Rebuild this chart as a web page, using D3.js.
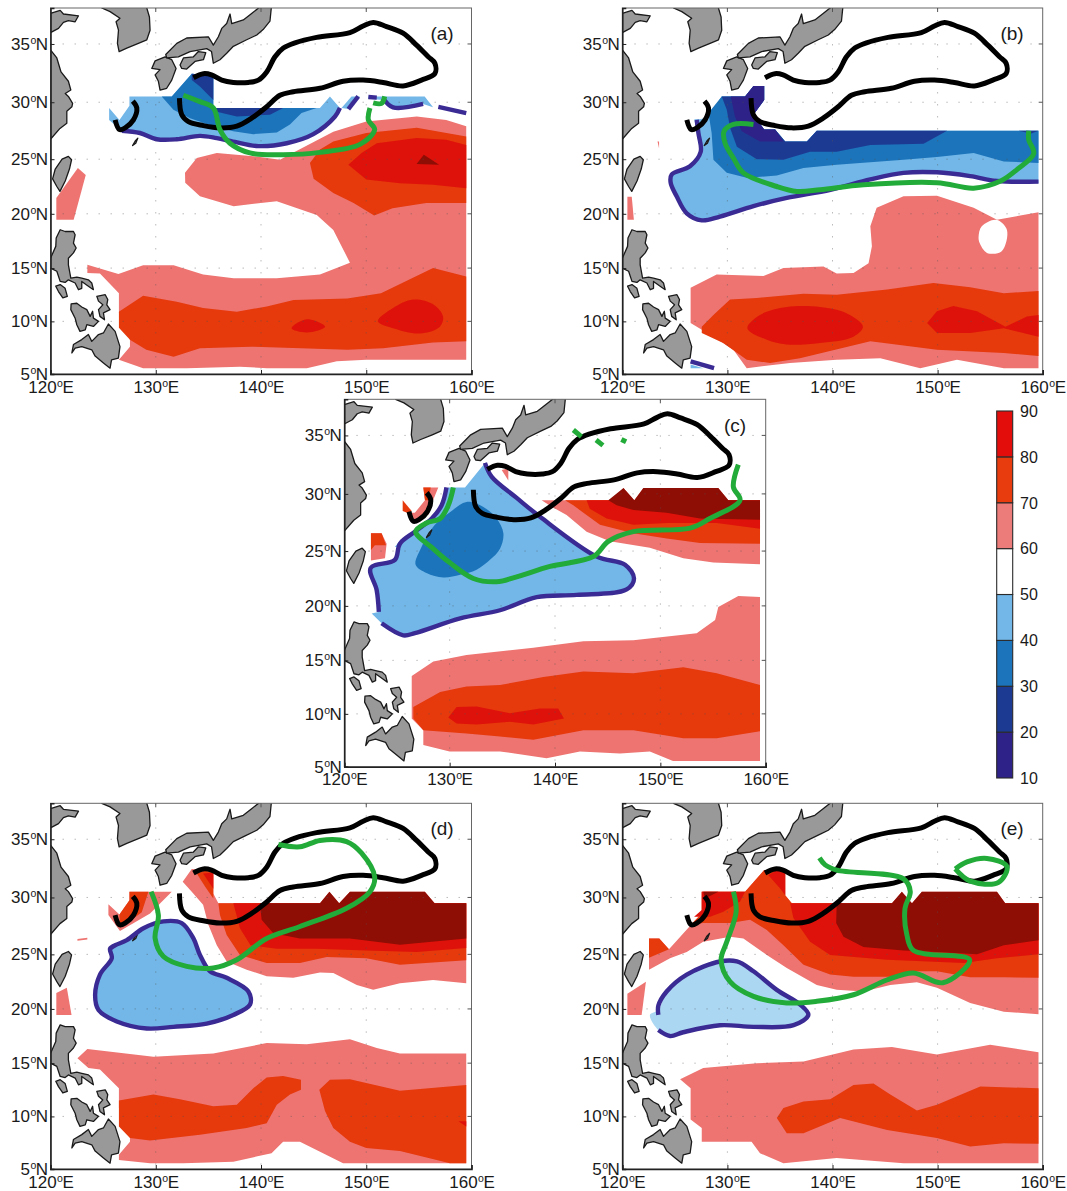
<!DOCTYPE html>
<html><head><meta charset="utf-8">
<style>html,body{margin:0;padding:0;background:#fff}svg{display:block}text{font-family:"Liberation Sans",Arial,sans-serif;fill:#1a1a1a}</style>
<script src="https://cdn.jsdelivr.net/npm/d3@7"></script></head><body><svg id="c" width="1067" height="1191"></svg>
<script>
// ---- tick labels and colour levels ----
const lonTicks=[120,130,140,150,160];
const latTicks=[5,10,15,20,25,30,35];
// the map's latitude axis is stretched northwards; relative height of each parallel in the frame
const latKnots=[5,10,15,20,25,30,35,38];
const latHeights=[1,0.8562,0.7106,0.5623,0.4131,0.2575,0.0983,0];
const barLevels=[10,20,30,40,50,60,70,80,90];
const barColors=["#2e2187","#1d3a93","#1c74ba","#72b7e8","#ffffff","#ec7c7a","#e83b0e","#e30e0c"];
const fillColor={c10:"#2e2187",c20:"#1d3a93",c30:"#1c74ba",c40:"#72b7e8",pale:"#abd7f3",hole:"#ffffff",c60:"#ed7471",c70:"#e6390c",c80:"#de120a",c90:"#8e0d05"};
// ---- land (lon, lat) ----
const shandong=[[120,35.9],[120,37.55],[120.92,37.8],[121.23,37.5],[122.66,37.35],[122.34,36.85],[121.7,36.95],[121.23,36.8],[120.76,36.3],[120,35.95]];
const china=[[120,34.5],[120.6,33.8],[121,32.6],[121.7,31.8],[121.93,31.05],[121.4,30.75],[121.7,30.5],[122.1,29.9],[122.03,29.6],[121.55,29.2],[121.55,28.15],[120.9,27.7],[120,26.75]];
const korea=[[124.87,38],[125.66,37.7],[126.6,37.15],[126.23,36.85],[126.46,36.15],[126.36,35.05],[126.52,34.35],[127.25,34.65],[128.35,35.05],[129.15,35.35],[129.46,36.15],[129.4,37.25],[129.08,38.2],[124.87,38.2]];
const kyushu=[[129.62,32.9],[129.94,33.55],[130.89,33.9],[131.52,33.65],[131.93,32.9],[131.52,31.9],[131.04,31.2],[130.41,31.05],[130.25,31.8],[129.94,32.35],[130.41,32.8]];
const shikoku=[[132.31,33.2],[132.63,33.8],[133.58,33.9],[134.05,34.35],[134.75,34.25],[134.53,33.65],[133.73,33.5],[132.94,32.85],[132.47,32.9]];
const honshu=[[130.95,34.1],[132,35.05],[132.94,35.5],[135,35.6],[135.47,34.9],[135.95,35.6],[136.27,36.3],[136.74,36.7],[137.06,37.5],[137.22,36.7],[138.32,37],[139.11,37.55],[140.06,38.2],[141,38.2],[140.85,36.9],[140.2,36.2],[139.6,35.75],[138.64,35.35],[137.37,34.8],[136.74,34.2],[136.1,33.65],[135.47,33.35],[135.3,34.35],[134.84,34.6],[133.26,34.35],[132.15,33.9],[131.04,33.8]];
const taiwan=[[120.2,23.2],[120.45,24.1],[121.1,25],[121.7,25.25],[122,24.95],[121.8,24.1],[121.4,23],[120.9,22.05],[120.6,22.5]];
const luzon=[[120,15.9],[120.5,17],[120.54,17.77],[120.92,18.53],[121.39,18.37],[122.18,18.37],[122.34,18.07],[122.18,17.3],[122.44,16.85],[122.18,16.4],[121.7,15.9],[121.7,15.3],[121.93,14.05],[122.5,14.15],[122.97,14.05],[123.6,13.9],[123.92,13.6],[124.08,12.97],[123.6,13.3],[122.97,13.75],[122.97,13.1],[122.66,12.97],[122.34,13.6],[121.7,13.9],[121.39,13.65],[120.92,13.75],[120.6,14.7],[120,15]];
const mindoro=[[120.5,13.3],[120.92,13.45],[121.39,13.1],[121.6,12.35],[121.17,12.2],[120.76,12.8]];
const samar=[[124.4,12.35],[125.2,12.5],[125.44,12.05],[125.35,11.55],[125.66,11.1],[125.03,10.8],[125.13,10.15],[124.7,10.47],[124.56,11.1],[124.97,11.55],[124.56,11.9]];
const visayas=[[121.96,11.65],[122.5,11.7],[122.97,11.35],[123.45,11.1],[123.77,10.47],[124,10.95],[124.08,10.3],[124.56,10],[124.08,9.52],[123.45,9.68],[123.3,9.2],[122.8,9.05],[122.5,9.68],[122.34,10.3],[121.93,11.1]];
const mindanao=[[122.03,7],[122.18,7.8],[122.97,8.27],[123.6,8.75],[123.92,8.1],[124.56,8.75],[125.03,8.9],[125.5,9.75],[126.14,9.05],[126.6,7.6],[126.45,6.5],[125.8,6.35],[125.66,5.55],[125.03,6.05],[124.24,6.7],[123.92,7.3],[122.97,7.6],[122.34,7.45]];
const islet=[[127.8,26.2],[128.05,26.6],[128.3,26.85],[128.1,26.4]];
// ---- reference contour (black) ----
const blackMain=[[133.58,32.1],[134.53,32.45],[135.3,32.35],[136.27,31.9],[137.37,31.7],[138.8,31.7],[139.75,31.9],[140.54,32.6],[141.33,33.9],[142.12,34.65],[143.23,35.1],[145.28,35.55],[148.45,35.95],[149.7,36.5],[150.66,36.8],[151.93,36.45],[153.5,35.9],[154.78,34.9],[155.89,33.9],[156.52,33.35],[156.52,32.45],[155.25,31.9],[153.5,31.4],[151.6,31.7],[149.7,31.9],[147.8,31.8],[145.6,31.2],[143.07,30.9],[141.8,30.6],[140.54,29.6],[139.11,28.6],[137.7,27.9],[136.1,27.75],[134.53,27.95],[133.1,28.3],[132.47,28.9],[132.25,30.35]];
const blackWest=[[127.82,30.1],[128.2,29.5],[127.88,28.45],[127.09,27.75],[126.55,27.6],[126.14,28.45]];
// ---- panel (a) ----
const a50=[[125.57,29.5],[126.55,28.45],[127.5,29.7],[127.5,30.5],[131.52,30.5],[133.42,32.45],[135.47,32.3],[135.47,29.5],[145.6,29.5],[146.55,30.5],[147.5,29.5],[147.03,28.75],[144.97,27.15],[142.44,26.4],[139.75,26.15],[137.37,26.7],[134.2,27],[130.1,26.7],[128.5,27.3],[126.77,27.5],[125.57,28.45]];
const a50b=[[147.65,29.5],[148.6,30.5],[149.4,30.5],[148.3,29.4]];
const a50c=[[150.2,30.5],[155.55,30.5],[156.35,29.55],[155.4,29.85],[152.55,29.55],[151.6,30.2],[150.2,30.3]];
const a40=[[130.57,30.5],[131.68,29.35],[133.26,28.6],[135.47,27.9],[137.37,27.45],[139.27,27.2],[141.5,27.35],[142.75,28.05],[143.85,29.05],[145.28,29.5],[135.47,29.5],[135.47,32.3],[133.42,32.45],[131.52,30.5]];
const a30=[[133.42,32.45],[135.47,32.3],[135.47,30.2],[134.2,31.35],[133.42,31.9]];
const a30b=[[135.47,29.5],[142.1,29.5],[140.85,28.9],[137.7,28.75],[135.6,29.2]];
const a60=[[132.78,23.75],[133.9,25.1],[135.8,25.55],[139.9,25.2],[141.8,24.95],[143.55,25.8],[146.87,27.4],[150,28.3],[154.8,28.75],[157.6,28.45],[159.5,27.9],[159.5,6.35],[154.15,6.35],[150,6.35],[147.2,6.2],[144.35,5.55],[140.55,5.55],[138,5.7],[132.95,5.55],[128.8,5.55],[126.5,6.35],[127.55,7.6],[127.55,8.25],[126.5,10.8],[126.5,12.65],[124.7,14.5],[123.5,14.55],[123.5,15.3],[126.45,14.45],[128.8,15.25],[131.7,15.25],[134.5,14.4],[137.4,14.05],[141.5,14.05],[145.6,14.4],[148.45,15.5],[146.87,18.5],[145.3,19.9],[141.5,21.15],[137.4,20.7],[134.2,21.6],[132.8,22.85]];
const a60w=[[120.55,21.45],[122.6,24.2],[123.35,23.55],[122.2,19.45],[120.55,19.45]];
const a70n=[[144.65,24.65],[145.6,25.85],[146.87,26.55],[150,27.3],[154.8,27.75],[159.5,27],[159.5,21],[155.7,21],[152.5,20.5],[150.75,19.85],[148.8,21],[146.87,21.9],[145,23.2]];
const a80n=[[148.3,24.5],[149.55,25.55],[151,26.4],[154.8,26.85],[157.6,26.7],[159.5,26.25],[159.5,22.35],[156.35,22.65],[153.2,22.8],[150,23.15]];
const a90=[[154.78,24.55],[155.47,25.4],[156.93,24.5]];
const a70s=[[126.5,10.9],[128.8,12.4],[132,11.85],[134.5,11.25],[137.7,10.9],[140.55,11.4],[143.1,12],[148.2,12.15],[151.4,12.65],[156.35,15],[159.5,14.2],[159.5,8.1],[156.35,8],[151.6,7.45],[148.2,7.3],[143.8,7.45],[139,7.6],[134.2,7.45],[131.7,6.65],[129.1,7.3],[127.55,8.25],[126.5,9.4]];
const a80s1=[[142.9,9.35],[144.35,10.2],[146.1,9.5],[144.35,8.95]];
const a80s2=[[151.1,10],[152.55,11.25],[154.45,12.05],[156.35,11.6],[157.3,10.45],[157,9.5],[155.1,8.85],[152.55,9.35]];
const aPurple1=[[126.77,27.5],[128.5,27.3],[130.1,26.75],[132,26.75],[134.2,27.05],[135.8,26.85],[137.37,26.55],[139.75,26.15],[142.44,26.4],[144.97,27.2],[147.03,28.75],[147.5,29.5]];
const aPurple2=[[148.3,29.4],[149.24,30.5]];
const aPurple3=[[150.2,30.45],[151,30.4]];
const aPurple4=[[151.6,30.35],[152.55,29.55],[155.4,29.85]];
const aPurple5=[[156.85,29.6],[159.5,29.05]];
const aGreen1=[[132.62,30.6],[134.2,30.05],[135.47,29.5],[136.1,27.6],[137.05,26.4],[138.95,25.55],[142.1,25.4],[145.6,25.6],[149.4,26.3],[150.8,27.6],[150.2,28.45],[150.35,29.5]];
const aGreen2=[[150.66,29.95],[151.45,29.9],[151.75,30.5]];
// ---- panel (b) ----
const b50=[[124.54,23.45],[126.13,24.2],[127.08,24.95],[127.4,25.65],[127.08,27.3],[126.86,28.5],[127.4,28.5],[128.2,28.7],[129.46,30.5],[131.68,30.5],[132.48,31.4],[133.5,31.4],[133.5,30.2],[132.48,28.9],[133.5,27.6],[134.54,27.6],[135.5,26.55],[137.56,26.55],[138.5,27.5],[159.6,27.5],[159.6,22.8],[157.55,22.95],[153.1,23.45],[149.94,23.8],[146.76,23.75],[143.6,23.15],[139.8,22.2],[135.65,21.45],[132.48,20.7],[129.3,19.75],[127.56,19.4],[126.13,20.05],[125.17,21.6],[124.6,22.85]];
const b40=[[128.2,29.05],[128.5,27.3],[128.67,24.95],[129.94,23.75],[131.84,23.3],[134.7,23.5],[137.24,24.2],[140.4,24.5],[146.76,24.95],[149.94,25.2],[153.43,25.55],[156.3,24.8],[159.6,24.65],[159.6,27.5],[138.5,27.5],[137.56,26.55],[135.5,26.55],[134.54,27.6],[133.5,27.6],[132.48,28.9],[133.5,30.2],[133.5,31.4],[132.48,31.4],[131.68,30.5],[129.46,30.5]];
const b30=[[129.46,30.5],[129.94,29.35],[130.25,27.75],[130.9,26.1],[132.8,25],[135.33,24.95],[137.87,25.65],[140.4,25.65],[143.6,26.25],[148.67,26.35],[150.9,27.5],[138.5,27.5],[137.56,26.55],[135.5,26.55],[134.54,27.6],[133.5,27.6],[132.48,28.9],[133.5,30.2],[133.5,31.4],[132.48,31.4],[131.68,30.5]];
const b20=[[130.32,30.5],[131.68,30.5],[132.48,31.4],[133.5,31.4],[133.5,30.2],[132.48,28.9],[133.5,27.6],[134.54,27.6],[135.33,26.55],[133.1,26.55],[131.37,27.45],[130.73,28.7]];
const b20r=[[157.7,27.5],[158.9,27.25],[159.6,27.5]];
const b50s=[[126.5,5.9],[126.5,5.55],[127.7,5.55]];
const b60=[[126.5,13.15],[128.98,14.4],[133.43,14.25],[135.33,15],[139.14,15.15],[140.4,14.5],[142,14.55],[143.43,15.45],[143.75,17],[143.6,18.85],[144.2,20.55],[146.76,21.6],[149.94,21.65],[153.43,20.55],[155.65,19.45],[159.6,20.15],[159.6,5.55],[156.3,5.55],[151.84,6.35],[148.35,5.55],[144.55,6.5],[140.4,6.35],[135.97,6.05],[131.84,5.55],[130.57,7.3],[128.67,8.55],[126.5,9.85]];
const bHole=[[153.9,17.9],[154.2,18.85],[155.6,19.45],[156.6,18.5],[156.1,16.55],[154.7,16.4],[154,17.3]];
const b60w=[[120.48,21.55],[120.9,21.55],[121.1,19.45],[120.48,19.45]];
const b60t=[[123.35,26.55],[123.5,26.55],[123.5,25.95]];
const b70=[[127.56,9.5],[128.67,10.6],[130.25,12.05],[132.8,12.2],[137.24,12.6],[140.4,12.5],[145.2,13],[149.6,13.6],[153.1,13.2],[156.3,12.65],[159.6,12.85],[159.6,6.7],[156.3,7],[149.94,7.3],[143.6,8.1],[136.9,6.5],[134.06,6.05],[131.84,6.35],[129.6,7.95],[127.56,8.9]];
const b80a=[[131.9,9.35],[133.1,10.6],[135.65,11.35],[138.83,11.35],[141.37,10.75],[142.9,9.5],[142,8.55],[138.83,7.95],[135.65,7.8],[133.75,8.25]];
const b80b=[[149,9.85],[149.94,10.95],[151.5,11.45],[153.75,10.95],[156.45,9.5],[158.5,10.45],[159.6,10.6],[159.6,8.55],[156.3,9.35],[153.1,8.9],[149.94,8.9]];
const bPurple1=[[127.08,28.45],[127.24,27.3],[127.46,25.65],[126.44,24.35],[124.7,23.6],[124.6,22.85],[125.17,21.6],[126.13,20.05],[127.56,19.4],[129.3,19.75],[132.48,20.7],[135.65,21.45],[139.8,22.2],[143.6,23.15],[146.76,23.75],[149.94,23.8],[153.1,23.45],[155.65,23],[159.6,22.95]];
const bPurple2=[[126.5,6.2],[128.73,5.55]];
const bGreen=[[132.48,28.05],[130.57,28.05],[129.68,27.45],[129.78,26.4],[130.57,25.1],[131.52,23.75],[134.7,22.5],[136.6,22.05],[138.83,22.2],[142.95,22.65],[149.94,22.85],[153.43,22.35],[156,23],[157.55,24.05],[159.15,25.5],[158.67,26.7],[158.67,27.5]];
// ---- panel (c) ----
const c50=[[133.35,32.65],[131.46,30.55],[129.87,30.55],[129.24,29],[128.3,27.85],[126.7,26.7],[125.28,25.65],[124.8,24.2],[122.5,23.45],[123.07,21.45],[123.23,19.45],[122.6,19.3],[123.54,18.4],[125.6,17.3],[126.7,17.5],[131,18.85],[134.78,19.6],[138.26,20.8],[142.06,21],[146.8,21.5],[147.5,22.5],[146.65,23.75],[143.96,24.5],[138.58,28],[136.36,29.65],[134,31.45]];
const c50b=[[124.8,25.35],[125.4,26.05],[125.4,25.35]];
const c50c=[[135.7,30.3],[136.5,29.5],[135.9,29.5]];
const c40=[[126.77,23.75],[127.25,25.2],[128.6,27.3],[130.03,28.4],[131.6,29.3],[133.2,28.85],[134.46,27.85],[135.1,26.55],[134.78,25.2],[133.83,24.2],[132.56,23.3],[131,22.85],[129.4,22.6],[127.8,23]];
const c60n=[[138.73,29.45],[145.54,29.45],[146.5,30.5],[147.53,29.45],[148.39,30.5],[155.5,30.5],[156.46,29.45],[159.46,29.45],[159.46,23.8],[155.03,23.95],[152.18,24.35],[149,25.3],[145.2,25.85],[143,26.7],[141.1,28.15],[139.84,28.8]];
const c70n=[[140.95,29.45],[159.46,29.45],[159.46,25.65],[153.77,25.7],[150.6,26.1],[147.44,26.55],[144.27,27.3],[142.7,28.35],[141.74,29]];
const c80n=[[143,29.45],[159.46,29.45],[159.46,26.95],[155.35,27.45],[150.6,27.45],[147.44,27.3],[144.9,27.85],[143.3,28.7]];
const c90=[[145.06,29.45],[146.5,30.5],[147.53,29.45],[148.39,30.5],[155.5,30.5],[156.46,29.45],[159.46,29.45],[159.46,27.75],[153.77,27.85],[150.6,28.35],[147.44,28.6],[145.85,29]];
const c60w1=[[127.5,30.55],[128.92,30.55],[128.3,29.15],[128,28.2],[126.7,27.55],[126.23,28.35],[126.7,28.35],[127.66,29.45]];
const c70w1=[[125.54,29.45],[126.4,28.5],[126.08,28.3],[125.54,28.5]];
const c70w2=[[127.5,30.55],[128.2,30.55],[128,29.45],[127.66,29.45]];
const c60w2=[[122.53,26.55],[123.54,26.55],[124.02,25.65],[123.86,24.35],[122.53,24.15]];
const c70w3=[[122.53,26.55],[123.54,26.55],[123.96,25.5],[122.9,25.5],[122.53,25.1]];
const c60t=[[134.94,32.05],[135.57,32.2],[135.57,31.15]];
const c60s=[[126.4,13.55],[128.45,14.9],[131.6,15.5],[137.94,16.15],[142.7,16.75],[147.44,16.85],[153.45,17.5],[155.2,18.7],[155.5,19.9],[157.4,20.9],[159.46,20.8],[159.46,5.55],[151.2,5.55],[149,6.45],[146.17,6.25],[142.37,6.45],[139.2,5.8],[134.78,6.45],[130,6.45],[127.5,7.05],[127.5,8.45],[126.4,9.55]];
const c70s=[[126.55,10.65],[129.1,12.05],[131.6,12.55],[134.78,12.7],[138.9,13.45],[142.7,13.95],[147.44,13.8],[152.18,14.35],[155.35,13.8],[159.46,12.7],[159.46,8.35],[155.35,7.7],[152.18,7.7],[147.44,8.45],[142.7,8.45],[137.94,7.55],[134.78,7.85],[131.6,8.15],[127.5,8.45],[126.55,9.55]];
const c80s=[[129.87,9.65],[130.66,10.65],[132.56,10.7],[135.73,10.05],[138.58,10.5],[140.3,10.5],[140.85,9.55],[137.94,9],[135.73,9.25],[132.56,9],[130.66,9.1]];
const cPurple1=[[129.7,30.55],[129.24,29],[128.3,27.85],[126.7,26.7],[125.28,25.65],[124.8,24.2],[122.5,23.45],[123.07,21.45],[123.28,19.45]];
const cPurple2=[[123.54,18.4],[125.6,17.3],[126.7,17.5],[131,18.85],[134.78,19.6],[138.26,20.8],[142.06,21],[146.8,21.5],[147.5,22.5],[146.65,23.75],[143.96,24.5],[138.58,28],[136.36,29.65],[134,31.45],[133.35,32.65]];
const cGreen1=[[130.35,30.55],[129.87,29],[129.1,27.85],[127.8,27.45],[126.77,26.7],[128.45,25.2],[130,23.95],[132.25,22.5],[134.46,22.2],[136.36,22.65],[139.53,23.6],[143.64,24.5],[145.06,25.85],[147.44,26.7],[152.82,27],[154.7,27.85],[157.56,29.45],[156.93,30.6],[157.4,32.5]];
const cGreen2=[[141.74,35.45],[142.5,34.9]];
const cGreen3=[[143.9,34.6],[144.55,34.15]];
const cGreen4=[[146.3,34.65],[146.75,34.45]];
// ---- panel (d) ----
const d50=[[126.14,25.8],[125.66,25.5],[125.82,24.65],[124.7,23.15],[124.24,21.3],[124.56,19.9],[126.3,18.85],[129.15,18.2],[131.68,18.35],[134.84,18.65],[137.37,19.45],[138.96,20.4],[138.8,21.6],[136.74,22.85],[135.16,23.45],[134.2,24.95],[133.58,26.4],[132.47,27.75],[130.73,27.9],[128.83,27.3],[127.25,26.25]];
const d60n=[[132.56,31.35],[133.42,32.45],[135.47,32.3],[135.47,30.35],[135.95,29.5],[145.6,29.5],[146.5,30.5],[147.43,29.5],[148.45,30.5],[155.57,30.5],[156.5,29.5],[159.5,29.5],[159.5,22.35],[156.35,22.65],[153.2,22.35],[150.66,21.75],[149.1,22.2],[146.87,23.3],[145.6,23.35],[143.07,22.85],[140.54,23],[138.64,23.6],[136.74,24.35],[135.8,25.8],[135,27.6],[134.5,29.35],[133.42,30.5]];
const d70a=[[133.9,32.05],[134.68,32.3],[135.47,32.15],[135.47,29.9],[134.68,30.95]];
const d70b=[[135.95,29.5],[159.5,29.5],[159.5,24.45],[153.2,24.05],[150,24.65],[146.24,24.75],[143.7,24.2],[140.54,24.2],[138,24.95],[136.74,26.7],[136.1,28.45]];
const d80a=[[134.5,32.05],[135.47,32.15],[135.47,30.75]];
const d80b=[[137.37,29.5],[159.5,29.5],[159.5,25.55],[154.8,25.2],[150,25.35],[145.3,25.5],[141.5,25.5],[139,25.8],[138,27.3]];
const d90=[[139.9,29.5],[145.6,29.5],[146.5,30.5],[147.43,29.5],[148.45,30.5],[155.57,30.5],[156.5,29.5],[159.5,29.5],[159.5,26.4],[153.2,25.85],[148.45,26.4],[143.7,26.4],[141.17,26.85],[140.06,28.05]];
const d60w=[[127.5,30.5],[131.52,30.5],[129.46,28.6],[126.6,27.05],[125.5,28.45],[125.5,29.4],[126.55,28.5],[127.5,29.75]];
const d70w=[[127.5,30.5],[129.3,30.5],[128.67,28.7],[127.72,28.05],[126.6,27.35],[126.55,28.5],[127.5,29.75]];
const d60t=[[122.56,26.35],[123.5,26.45],[123.5,26.3],[122.56,26.2]];
const d60x=[[120.55,21.45],[121.55,21.95],[122,19.45],[120.55,19.45]];
const d60s=[[122.56,15.45],[123.5,16.3],[129.78,15.6],[135.47,15.9],[140.54,16.85],[144.34,16.75],[148.45,17.2],[151,16.4],[153.2,15.9],[159.5,15.9],[159.5,5.55],[147.8,5.55],[143.7,7.6],[142.1,7.6],[141,6.5],[137.37,5.7],[132.6,5.55],[129.46,5.55],[126.5,5.85],[126.5,6.35],[127.55,7.6],[127.55,8.55],[126.5,10.8],[126.5,12.65],[124.7,14.4],[123.6,14.55]];
const d70s1=[[126.5,11.5],[129.78,12.05],[132.3,11.6],[135.47,10.95],[137.7,11.1],[139.27,12.65],[140.54,13.65],[142.1,13.8],[143.8,13.45],[143.8,12.5],[142.75,12.05],[141.5,11.1],[140.54,9.35],[138.64,8.9],[134.2,8.25],[129.46,7.7],[127.55,7.95],[126.5,9.05]];
const d70s2=[[145.54,12.5],[146.55,13.45],[148.45,13.5],[153.2,12.4],[159.5,12.95],[159.5,5.55],[157.95,5.55],[153.2,6.7],[150,7],[148.45,7.6],[146.87,8.9],[146.08,10.5]];
const d80s=[[158.75,9.55],[159.5,9.55],[159.5,9.05]];
const dPurple=[...d50,d50[0],d50[1]];
const dGreen=[[129.56,30.5],[130.25,28.45],[129.94,26.4],[130.73,24.8],[132.94,23.9],[135.47,23.75],[137.7,24.5],[140.54,26.4],[143.7,27.45],[148.13,29.05],[150.35,30.5],[150.8,31.75],[149.56,33.8],[148.13,34.8],[145.6,34.9],[143.7,34.35],[141.65,34.55]];
// ---- panel (e) ----
const e50=[[123.43,19.9],[124.22,21.6],[126.13,23.15],[129.3,24.35],[130.9,24.35],[132.48,23.45],[134.7,21.75],[136.92,20.4],[137.7,19.45],[136.3,18.5],[132.48,18.35],[129.3,18.5],[125.8,17.85],[124.54,17.5],[123.43,18.05],[122.63,19.45]];
const e60=[[122.54,22.95],[122.54,26.4],[123.52,26.4],[124.44,25.45],[126.44,27.5],[127.56,28.6],[127.56,30.5],[131.68,30.5],[133.5,32.35],[135.5,32.35],[135.5,30.2],[136.13,29.5],[145.65,29.5],[146.6,30.5],[147.56,29.5],[148.5,30.5],[155.65,30.5],[156.44,29.5],[159.6,29.5],[159.6,19.5],[156.3,19.75],[153.1,20.55],[149.94,21.95],[148.03,22.45],[145.5,22.2],[142.95,21.6],[140.4,21.75],[138.5,22.2],[135.65,23.75],[133.75,24.95],[131.52,26.4],[130.25,26.55],[127.7,26.1],[126.13,25.2],[124.54,24.65],[122.54,23.6]];
const e70w=[[122.54,26.4],[123.52,26.4],[124.44,25.45],[122.54,24.7]];
const e70=[[126.5,27.6],[127.56,28.6],[127.56,30.5],[131.68,30.5],[133.5,32.35],[135.5,32.35],[135.5,30.2],[136.13,29.5],[159.6,29.5],[159.6,22.85],[156.3,22.9],[153.1,22.9],[149.94,23.45],[148.03,23.45],[145.5,22.95],[142,22.95],[139.78,23.15],[137.24,24.05],[135.33,25.8],[133.75,27.15],[132.16,28.05],[130.25,27.75],[127.7,27.75]];
const e80a=[[126.83,28.3],[127.56,28.9],[127.56,30.5],[131.68,30.5],[131.2,29.65],[129.62,28.75],[128.35,28.3]];
const e80b=[[133.9,31.9],[134.7,32.35],[135.5,32.3],[135.5,30.2],[135,30.8]];
const e80c=[[135.97,29.5],[159.6,29.5],[159.6,25],[155.65,24.65],[152.48,24.2],[145.2,24.5],[139.78,24.95],[137.87,26.1],[136.28,28.2]];
const e90=[[140.4,29.5],[145.65,29.5],[146.6,30.5],[147.56,29.5],[148.5,30.5],[155.65,30.5],[156.44,29.5],[159.6,29.5],[159.6,26.25],[156.3,25.8],[153.75,25],[149.94,25.2],[146.76,25.35],[142.95,25.65],[141.05,26.55],[140.35,27.75]];
const e90b=[[127.87,29.9],[127.7,30.5],[129.14,30.5]];
const e60x=[[120.48,21.4],[122.25,22.5],[121.84,19.45],[120.48,19.45]];
const e60s=[[125.5,13.5],[127.7,14.55],[132.8,15],[137.24,15.15],[142,16.25],[145.65,16.5],[149.94,15.8],[155,16.7],[159.6,16],[159.6,5.55],[146.76,5.55],[140.4,6.05],[135.33,5.55],[133.1,6.5],[132.3,7.6],[127.56,7.6],[127.56,8.9],[126.5,9.7],[126.5,12.65]];
const e70s=[[134.7,9.85],[135.33,10.8],[137.24,11.4],[139.78,11.6],[142,12.95],[143.9,13.1],[145.5,12.05],[148.03,10.55],[149.94,11.1],[154.06,12.8],[159.6,12.65],[159.6,7.4],[156.3,7.45],[153.1,7.15],[149.94,7.95],[145.2,8.7],[140.73,9.85],[137.24,8.4],[135.65,8.4]];
const ePurple=[[123.43,19.45],[123.43,20.3],[124.22,21.6],[126.13,23.15],[129.3,24.35],[130.9,24.35],[132.48,23.45],[134.7,21.75],[136.92,20.4],[137.7,19.45],[136.3,18.5],[132.48,18.35],[129.3,18.5],[125.8,17.85],[124.54,17.5],[123.43,18.05]];
const eGreen1=[[130.57,30.5],[130.83,28.75],[129.94,26.1],[129.4,24.5],[130.25,22.5],[132.48,21.15],[135.65,20.55],[138.5,20.7],[142,21.3],[145.17,22.65],[147.7,23.3],[150.5,22.4],[153.05,24.5],[147.7,25.35],[147.08,26.7],[146.9,29.05],[147.4,30.5],[146.76,31.6],[140.4,32.35],[139.3,32.8],[138.76,33.4]];
const eGreen2=[[151.68,32.45],[152.8,33.05],[154.7,33.35],[156.6,32.65],[155.8,31.3],[153.1,31.4],[151.68,32.45]];

const lands=[shandong,china,korea,kyushu,shikoku,honshu,taiwan,luzon,mindoro,samar,visayas,mindanao,islet];
const smoothSet=new Set([a80s2,b80a,bHole,c40,d50,e50,a80s1]);
const panels=[
 {tag:"(a)",frame:[50.5,471.5,8,374],labX:442,labY:33,
  fills:[["c60",a60],["c60",a60w],["c70",a70n],["c80",a80n],["c90",a90],["c70",a70s],["c80",a80s1],["c80",a80s2],["c40",a50],["c40",a50b],["c40",a50c],["c30",a40],["c20",a30],["c20",a30b]],
  purple:[aPurple1,aPurple2,aPurple3,aPurple4,aPurple5],green:[aGreen1,aGreen2]},
 {tag:"(b)",frame:[622.3,1042.7,8,374],labX:1012,labY:33,
  fills:[["c60",b60],["hole",bHole],["c60",b60w],["c60",b60t],["c70",b70],["c80",b80a],["c80",b80b],["c40",b50],["c40",b50s],["c30",b40],["c20",b30],["c20",b20r],["c10",b20]],
  purple:[bPurple1,bPurple2],green:[bGreen]},
 {tag:"(c)",frame:[344.3,765.7,399.3,766.7],labX:735,labY:425,
  fills:[["c60",c60n],["c70",c70n],["c80",c80n],["c90",c90],["c60",c60w1],["c70",c70w1],["c70",c70w2],["c60",c60w2],["c70",c70w3],["c60",c60t],["c60",c60s],["c70",c70s],["c80",c80s],["c40",c50],["c40",c50b],["c40",c50c],["c30",c40]],
  purple:[cPurple1,cPurple2],green:[cGreen1,cGreen2,cGreen3,cGreen4]},
 {tag:"(d)",frame:[50.5,471.5,803.3,1169],labX:442,labY:828,
  fills:[["c60",d60n],["c70",d70a],["c70",d70b],["c80",d80a],["c80",d80b],["c90",d90],["c60",d60w],["c70",d70w],["c60",d60t],["c60",d60x],["c60",d60s],["c70",d70s1],["c70",d70s2],["c80",d80s],["c40",d50]],
  purple:[dPurple],green:[dGreen]},
 {tag:"(e)",frame:[622.3,1042.7,803.3,1169],labX:1012,labY:828,
  fills:[["c60",e60],["c70",e70w],["c70",e70],["c80",e80a],["c80",e80b],["c80",e80c],["c90",e90],["c90",e90b],["c60",e60x],["c60",e60s],["c70",e70s],["pale",e50]],
  purple:[ePurple],green:[eGreen1,eGreen2]}
];

const svg=d3.select("#c");
const defs=svg.append("defs");

function tickLabel(sel,suffix){
  sel.each(function(d){
    const t=d3.select(this);t.text(null);
    t.append("tspan").text(d);
    t.append("tspan").attr("font-size",10.5).attr("dy",-6).attr("dx",0.5).text("o");
    t.append("tspan").attr("dy",6).attr("dx",-0.5).text(suffix);
  });
}

panels.forEach((p,i)=>{
  const [L,R,T,B]=p.frame;
  const x=d3.scaleLinear().domain([120,160]).range([L,R]);
  const y=d3.scaleLinear().domain(latKnots).range(latHeights.map(h=>T+h*(B-T)));
  const line=d3.line().x(d=>x(d[0])).y(d=>y(d[1]));
  const roundLine=d3.line().x(d=>x(d[0])).y(d=>y(d[1])).curve(d3.curveCatmullRom.alpha(0.5));
  const roundShape=d3.line().x(d=>x(d[0])).y(d=>y(d[1])).curve(d3.curveCatmullRomClosed.alpha(0.5));
  defs.append("clipPath").attr("id","clip"+i).append("rect").attr("x",L).attr("y",T).attr("width",R-L).attr("height",B-T);
  const g=svg.append("g");
  const m=g.append("g").attr("clip-path",`url(#clip${i})`);
  m.selectAll("path.f").data(p.fills).join("path").attr("class","f")
    .attr("d",d=>smoothSet.has(d[1])?roundShape(d[1]):line(d[1])+"Z").attr("fill",d=>fillColor[d[0]]);
  // dotted graticule
  m.selectAll("line.glon").data(lonTicks.slice(1,4)).join("line").attr("class","glon")
    .attr("x1",d=>x(d)).attr("x2",d=>x(d)).attr("y1",T).attr("y2",B)
    .attr("stroke","#555").attr("stroke-opacity",.4).attr("stroke-width",1).attr("stroke-dasharray","1.5 10.5");
  m.selectAll("line.glat").data(latTicks.slice(1)).join("line").attr("class","glat")
    .attr("x1",L).attr("x2",R).attr("y1",d=>y(d)).attr("y2",d=>y(d))
    .attr("stroke","#555").attr("stroke-opacity",.4).attr("stroke-width",1).attr("stroke-dasharray","1.5 10.5");
  m.selectAll("path.l").data(lands).join("path").attr("class","l").attr("d",d=>line(d)+"Z")
    .attr("fill","#999").attr("stroke","#1a1a1a").attr("stroke-width",1.3).attr("stroke-linejoin","round");
  const stroke=(data,col,w)=>m.append("g").selectAll("path").data(data).join("path").attr("d",roundLine)
    .attr("fill","none").attr("stroke",col).attr("stroke-width",w).attr("stroke-linejoin","round");
  stroke(p.purple,"#3a2a93",4.4);
  stroke([blackMain,blackWest],"#000",5);
  stroke(p.green,"#22ab38",5);
  // frame
  g.append("rect").attr("x",L).attr("y",T).attr("width",R-L).attr("height",B-T).attr("fill","none").attr("stroke","#666").attr("stroke-width",1);
  const ax=g.append("g").attr("transform",`translate(0,${B})`).call(d3.axisBottom(x).tickValues(lonTicks).tickSize(-4).tickPadding(6.5));
  const ay=g.append("g").attr("transform",`translate(${L},0)`).call(d3.axisLeft(y).tickValues(latTicks).tickSize(-4).tickPadding(2.5));
  [ax,ay].forEach(a=>{
    a.select(".domain").attr("stroke","#222").attr("stroke-width",1.6);
    a.selectAll(".tick line").attr("stroke","#222");
  });
  ax.selectAll(".tick text").attr("font-size",17).attr("font-family",'"Liberation Sans",Arial,sans-serif').call(tickLabel,"E");
  ay.selectAll(".tick text").attr("font-size",17).attr("font-family",'"Liberation Sans",Arial,sans-serif').call(tickLabel,"N");
  // top and right inward ticks
  g.selectAll("line.tt").data(lonTicks.slice(1,4)).join("line").attr("class","tt").attr("x1",d=>x(d)).attr("x2",d=>x(d)).attr("y1",T).attr("y2",T+4).attr("stroke","#555");
  g.selectAll("line.rt").data(latTicks.slice(1)).join("line").attr("class","rt").attr("x1",R-4).attr("x2",R).attr("y1",d=>y(d)).attr("y2",d=>y(d)).attr("stroke","#555");
  g.append("text").attr("x",p.labX).attr("y",p.labY).attr("dy","0.35em").attr("text-anchor","middle").attr("font-size",19).text(p.tag);
});

// colour bar
const cy=d3.scaleLinear().domain([10,90]).range([778,411]);
const bar=svg.append("g");
bar.selectAll("rect").data(barColors).join("rect").attr("x",996.7).attr("width",16)
  .attr("y",(d,i)=>cy(barLevels[i+1])).attr("height",(d,i)=>cy(barLevels[i])-cy(barLevels[i+1]))
  .attr("fill",d=>d).attr("stroke","#2a2a2a").attr("stroke-width",1.1);
bar.selectAll("text").data(barLevels).join("text").attr("x",1020).attr("y",d=>cy(d)).attr("dy","0.36em").attr("font-size",16).text(d=>d);
</script></body></html>
